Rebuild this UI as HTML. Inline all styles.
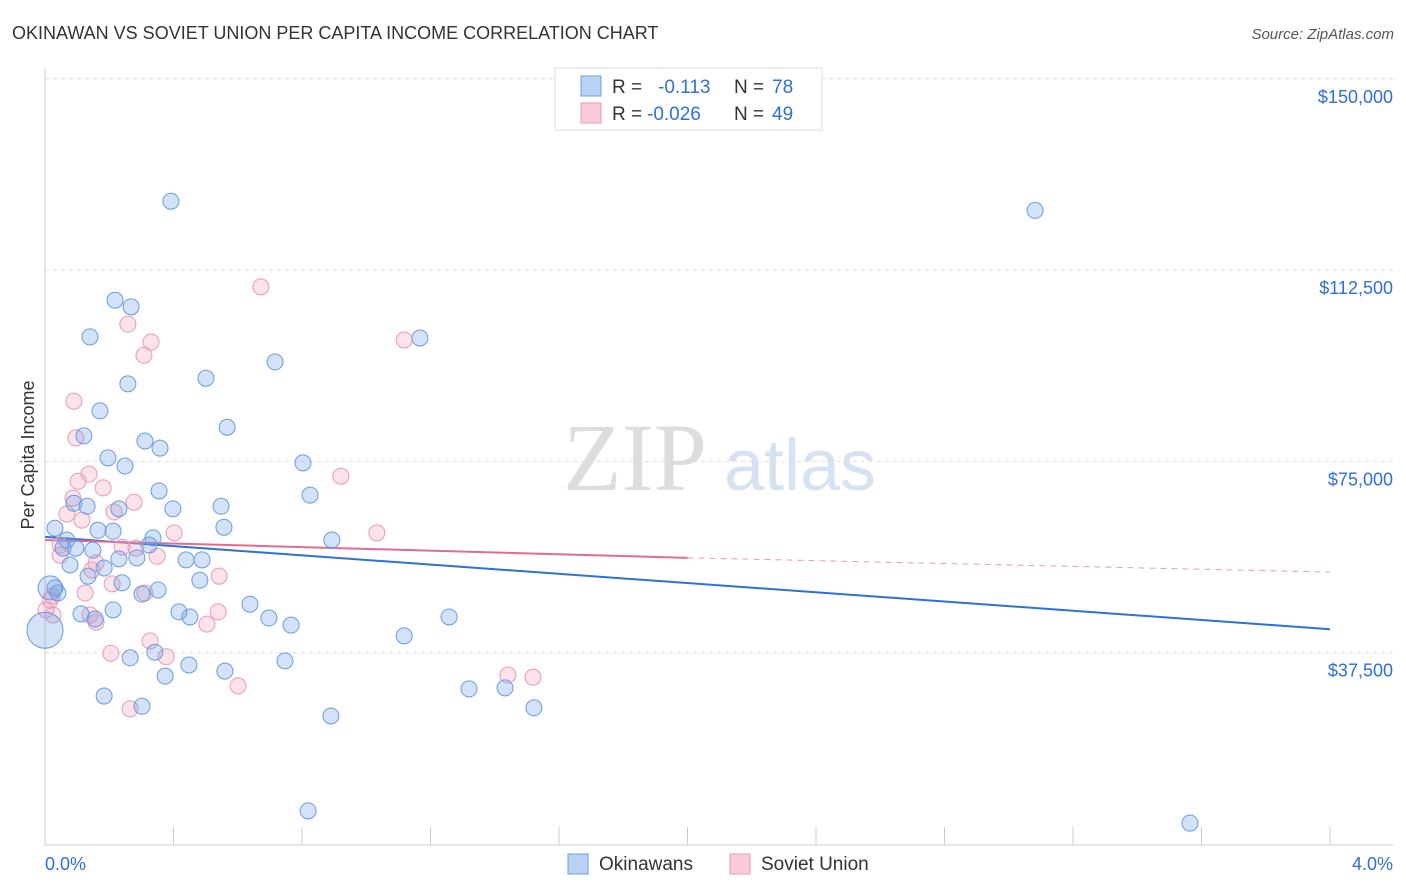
<!DOCTYPE html>
<html><head><meta charset="utf-8"><style>
body{margin:0;background:#fff;font-family:"Liberation Sans",sans-serif;}
svg{display:block}
</style></head><body>
<svg id="chart" width="1406" height="892">
<text x="12" y="39" font-size="18" fill="#333">OKINAWAN VS SOVIET UNION PER CAPITA INCOME CORRELATION CHART</text>
<text x="1394" y="39" font-size="15" fill="#555" text-anchor="end" font-style="italic">Source: ZipAtlas.com</text>
<g>
<text x="635" y="490" font-size="96" fill="#ddd" text-anchor="middle" font-family="Liberation Serif,serif">ZIP</text>
<text x="800" y="490" font-size="72" fill="#d6e2f2" text-anchor="middle">atlas</text>
</g>
<g id="grid"></g>
<g id="axes"></g>
<g id="lines"></g>
<g id="pts"></g>
<text transform="translate(34,455) rotate(-90)" font-size="18" fill="#333" text-anchor="middle">Per Capita Income</text>
<g>
<rect x="555" y="68" width="267" height="62" fill="#fff" stroke="#ddd"/>
<rect x="581" y="76" width="20" height="20" fill="#b9d3f5" stroke="#6a9be0"/>
<rect x="581" y="103" width="20" height="20" fill="#f9cad9" stroke="#e99ab5"/>
<text x="612" y="93" font-size="19" fill="#333">R =</text>
<text x="658" y="93" font-size="19" fill="#2f6fd6">-0.113</text>
<text x="734" y="93" font-size="19" fill="#333">N =</text>
<text x="772" y="93" font-size="19" fill="#2f6fd6">78</text>
<text x="612" y="120" font-size="19" fill="#333">R =</text>
<text x="647" y="120" font-size="19" fill="#2f6fd6">-0.026</text>
<text x="734" y="120" font-size="19" fill="#333">N =</text>
<text x="772" y="120" font-size="19" fill="#2f6fd6">49</text>
</g>
<g>
<rect x="568" y="854" width="20" height="20" fill="#b9d3f5" stroke="#6a9be0"/>
<text x="599" y="870" font-size="19" fill="#333">Okinawans</text>
<rect x="730" y="854" width="20" height="20" fill="#f9cad9" stroke="#e99ab5"/>
<text x="761" y="870" font-size="19" fill="#333">Soviet Union</text>
</g>
</svg>
<script>
const yTicks=[37500,75000,112500,150000];
const yTickLabels=["$37,500","$75,000","$112,500","$150,000"];
const xTickLabels=["0.0%","4.0%"];
const blueX=[0.392,3.082,0.218,0.268,0.140,1.167,0.716,0.501,0.258,0.171,0.567,0.121,0.311,0.358,0.196,0.249,0.803,0.355,0.825,0.090,0.131,0.398,0.548,0.230,0.031,0.165,0.557,0.212,0.336,0.893,0.068,0.324,0.056,0.096,0.149,0.078,0.286,0.230,0.439,0.489,0.184,0.134,0.482,0.240,0.031,0.352,0.302,0.040,0.638,0.212,0.112,0.417,0.451,0.156,0.697,0.766,1.258,1.118,0.342,0.265,0.448,0.560,0.747,0.374,0.184,0.302,1.320,1.432,1.522,0.890,0.819,3.564];
const blueY=[126000,124200,106600,105300,99400,99200,94500,91300,90200,84900,81700,80000,79000,77600,75700,74100,74700,69200,68400,66800,66200,65700,66200,65700,61900,61500,62100,61300,60000,59600,59600,58600,58000,58000,57600,54700,56100,55900,55700,55700,54100,52500,51700,51200,50200,49800,49000,49200,47000,45900,45100,45500,44500,44100,44300,42900,44500,40800,37600,36500,35100,33900,35900,32900,29000,27000,30400,30600,26700,25100,6500,4100];
const blueBigX=[0.0,0.016];
const blueBigY=[41900,50200];
const blueBigR=[18,12];
const pinkX=[0.672,0.258,0.330,0.308,1.118,0.090,0.096,0.137,0.103,0.181,0.921,0.087,0.277,0.068,0.115,0.215,0.402,1.033,0.047,0.240,0.283,0.349,0.047,0.159,0.146,0.209,0.125,0.022,0.542,0.311,0.539,0.159,0.140,0.025,0.504,0.205,0.327,0.377,0.601,1.441,1.519,0.265,0.016,0.003];
const pinkY=[109200,101900,98400,95800,98800,86800,79600,72500,71100,69800,72100,67800,67000,64700,63500,65100,61000,61000,58600,58200,58000,56400,56600,55100,53700,51000,49200,48600,52500,49200,45500,43500,44900,44900,43100,37400,39800,36700,31000,33100,32700,26500,47800,45900];
const blueFit=[60200,42100];
const pinkFit=[59600,56100,53300];
const fitX=[0,2,4];
const NS='http://www.w3.org/2000/svg';
const X0=45,X1=1330,Y0=844,YP=191.3/37500;
const sx=v=>X0+(X1-X0)*v/4;
const sy=v=>Y0-v*YP;
function mk(tag,attrs,parent){const e=document.createElementNS(NS,tag);for(const k in attrs)e.setAttribute(k,attrs[k]);parent.appendChild(e);return e;}
const grid=document.getElementById('grid'),axes=document.getElementById('axes'),lines=document.getElementById('lines'),pts=document.getElementById('pts');
yTicks.forEach((t,i)=>{
 const l=mk('line',{x1:45,x2:1393,y1:sy(t),y2:sy(t),stroke:'#ddd','stroke-dasharray':'4,4'},grid);
 
 
 const tx=mk('text',{x:1393,y:sy(t)+24,'font-size':18,fill:'#2f6fd6','text-anchor':'end'},axes);
 tx.textContent=yTickLabels[i];
 
 
});
const ax=mk('line',{x1:45,x2:1393,y1:845,y2:845,stroke:'#ccc'},axes);


const ay=mk('line',{x1:45,x2:45,y1:68,y2:845,stroke:'#ccc'},axes);


for(let i=0;i<=10;i++){
 const t=mk('line',{x1:sx(i*0.4),x2:sx(i*0.4),y1:827,y2:845,stroke:'#ccc'},axes);
 
 
}
[[45,'start',0],[1393,'end',1]].forEach(([x,a,i])=>{
 const t=mk('text',{x:x,y:870,'font-size':18,fill:'#2f6fd6','text-anchor':a},axes);
 t.textContent=xTickLabels[i];
 
 
});
const bl=mk('line',{x1:sx(fitX[0]),y1:sy(blueFit[0]),x2:sx(fitX[2]),y2:sy(blueFit[1]),stroke:'#2f6fd6','stroke-width':2},lines);


const pl=mk('line',{x1:sx(fitX[0]),y1:sy(pinkFit[0]),x2:sx(fitX[1]),y2:sy(pinkFit[1]),stroke:'#e36a97','stroke-width':2},lines);


const pd=mk('line',{x1:sx(fitX[1]),y1:sy(pinkFit[1]),x2:sx(fitX[2]),y2:sy(pinkFit[2]),stroke:'#e99ab5','stroke-width':1,'stroke-dasharray':'6,5'},lines);


function dot(x,y,r,fill,stroke,name){
 const c=mk('circle',{cx:sx(x),cy:sy(y),r:r,fill:fill,stroke:stroke,'stroke-width':1},pts);
 
 
}
pinkX.forEach((x,i)=>dot(x,pinkY[i],8,'rgba(243,160,190,0.3)','#e99ab5','soviet-point'));
blueX.forEach((x,i)=>dot(x,blueY[i],8,'rgba(110,160,230,0.3)','#6a9be0','okinawans-point'));
blueBigX.forEach((x,i)=>dot(x,blueBigY[i],blueBigR[i],'rgba(110,160,230,0.3)','#6a9be0','okinawans-point-large'));
</script>
</body></html>
